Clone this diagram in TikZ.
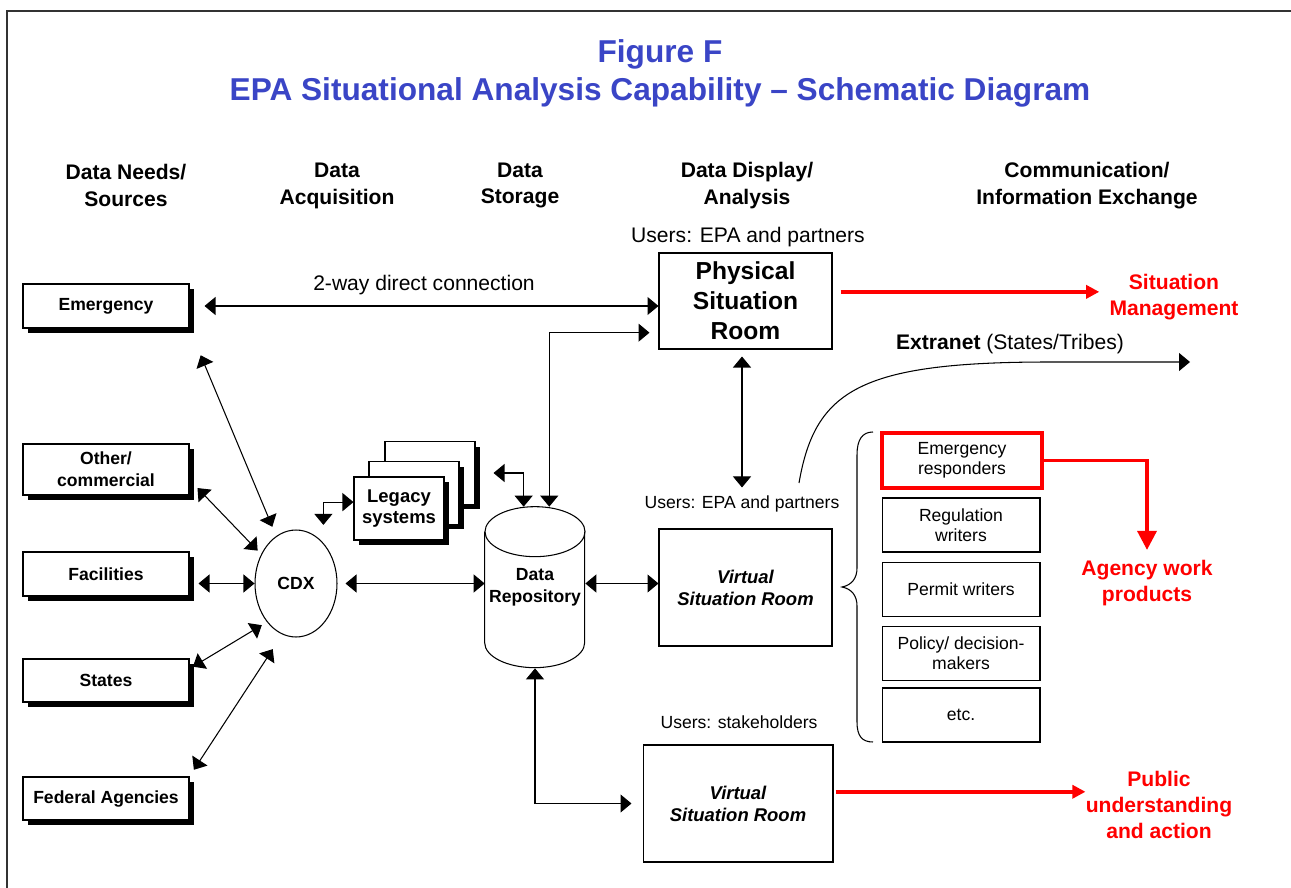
\documentclass[tikz,border=0pt]{standalone}
\usepackage{fontspec}
\setmainfont{Liberation Sans}
\usepackage{tikz}
\usetikzlibrary{arrows.meta,positioning,shapes.geometric,shadows}
\definecolor{titleblue}{HTML}{3A45C6}
\definecolor{alertred}{HTML}{FF0000}
\definecolor{framegray}{HTML}{333333}

\tikzset{
  hdr/.style={inner sep=0pt, align=center, font=\fontsize{12}{15.3}\selectfont\bfseries},
  lbl/.style={inner sep=0pt, align=center, font=\fontsize{12}{14.4}\selectfont},
  smalllbl/.style={inner sep=0pt, align=center, font=\fontsize{10}{12}\selectfont},
  redlbl/.style={inner sep=0pt, align=center, text=alertred, font=\fontsize{12}{14.7}\selectfont\bfseries},
  srcbox/.style={draw, fill=white, line width=0.6pt, minimum width=3.32cm, minimum height=0.88cm,
    inner sep=0pt, align=center, font=\fontsize{10}{12.3}\selectfont\bfseries,
    drop shadow={fill=black, opacity=1, shadow xshift=0.1cm, shadow yshift=-0.1cm}},
  legbox/.style={srcbox, minimum width=1.8cm, minimum height=1.26cm, font=\fontsize{10.5}{11.5}\selectfont\bfseries},
  roombox/.style={draw, fill=white, line width=0.6pt, inner sep=0pt, align=center},
  userbox/.style={draw, line width=0.6pt, minimum width=3.16cm, minimum height=1.08cm,
    inner sep=0pt, align=center, font=\fontsize{10}{11.5}\selectfont},
  dbl/.style={line width=0.6pt, {Triangle[length=0.22cm,width=0.36cm]}-{Triangle[length=0.22cm,width=0.36cm]}},
  redarr/.style={draw=alertred, line width=2pt, -{Triangle[length=0.26cm,width=0.26cm]}},
}

\begin{document}
\begin{tikzpicture}[x=0.02cm, y=-0.02cm]
  \useasboundingbox (0,0) rectangle (1291,888);
  \draw[framegray, line width=1.1pt] (7,888) -- (7,11) -- (1291,11);

  \node[inner sep=0pt, align=center, text=titleblue, font=\fontsize{18}{22}\selectfont\bfseries] (title) at (660,73.5)
    {Figure F\\EPA Situational Analysis Capability – Schematic Diagram};

  \node[hdr] (hdrsrc) at (126,185.5) {Data Needs/\\Sources};
  \node[hdr] (hdracq) at (337,185.5) {Data\\Acquisition};
  \node[hdr] (hdrsto) at (520,185.5) {Data\\Storage};
  \node[hdr] (hdrdisp) at (747,185.5) {Data Display/\\Analysis};
  \node[hdr] (hdrcomm) at (1087,185.5) {Communication/\\Information Exchange};

  \node[srcbox] (emerg) at (106,306) {Emergency};
  \node[srcbox, minimum height=1.02cm] (other) at (106,469.5) {Other/\\commercial};
  \node[srcbox] (fac) at (106,574) {Facilities};
  \node[srcbox, minimum height=0.86cm] (states) at (106,680.5) {States};
  \node[srcbox, minimum height=0.86cm] (fed) at (106,798.5) {Federal Agencies};

  \node[draw, ellipse, line width=0.6pt, minimum width=1.64cm, minimum height=2.14cm, inner sep=0pt,
        font=\fontsize{10}{12}\selectfont\bfseries] (cdx) at (296,583.5) {CDX};

  \node[legbox] (legb) at (430,473) {};
  \node[legbox] (legm) at (414,493) {};
  \node[legbox] (lega) at (399,508.5) {Legacy\\systems};

  \node[inner sep=0pt, minimum width=2cm, minimum height=3.22cm, align=center,
        font=\fontsize{10}{12.5}\selectfont\bfseries] (repo) at (535,587.5) {Data\\Repository};
  \draw[line width=0.6pt] (repo.north) ++(0,25) ellipse [x radius=50, y radius=25];
  \draw[line width=0.6pt] (repo.north west) ++(0,25) -- ++(0,111)
    arc [start angle=180, end angle=0, x radius=50, y radius=25] -- ++(0,-111);

  \node[lbl] (users1) at (748,237) {Users: EPA and partners};
  \node[roombox, minimum width=3.46cm, minimum height=1.92cm, font=\fontsize{14}{17}\selectfont\bfseries]
    (phys) at (745.5,301) {Physical\\Situation\\Room};
  \node[smalllbl] (users2) at (742,504) {Users: EPA and partners};
  \node[roombox, minimum width=3.46cm, minimum height=2.34cm, font=\fontsize{10.5}{12.5}\selectfont\bfseries\itshape]
    (vmid) at (745.5,587.5) {Virtual\\Situation Room};
  \node[smalllbl] (users3) at (739,722) {Users: stakeholders};
  \node[roombox, minimum width=3.8cm, minimum height=2.34cm, font=\fontsize{10.5}{12.5}\selectfont\bfseries\itshape]
    (vbot) at (738,803.5) {Virtual\\Situation Room};

  \node[redlbl] (sitmgmt) at (1174,297) {Situation\\Management};
  \node[lbl] (extlbl) at (1010,344) {\textbf{Extranet} (States/Tribes)};
  \node[redlbl] (agency) at (1147,583) {Agency work\\products};
  \node[redlbl] (public) at (1159,805) {Public\\understanding\\and action};

  \node[userbox, draw=alertred, line width=2.4pt, minimum width=3.2cm, minimum height=1.1cm] (er) at (962,460.5) {Emergency\\responders};
  \node[userbox] (reg) at (961,525) {Regulation\\writers};
  \node[userbox] (permit) at (961,589.5) {Permit writers};
  \node[userbox] (policy) at (961,653.5) {Policy/ decision-\\makers};
  \node[userbox] (etc) at (961,715) {etc.};

  \draw[line width=0.6pt] (873,432) .. controls (862,432) and (857,440) .. (857,455) -- (857,568)
    .. controls (857,578) and (852,585) .. (842,587) .. controls (852,589) and (857,596) .. (857,606)
    -- (857,722) .. controls (857,736) and (862,742) .. (873,742);

  \draw[dbl, shorten <=0.3cm] (emerg.east) -- (emerg.east -| phys.west)
    node[lbl, pos=0.5, above=0.22cm] (connlbl) {2-way direct connection};
  \draw[dbl, shorten <=0.58cm, shorten >=0.2cm] (emerg.south east) -- (cdx);
  \draw[dbl, shorten <=0.23cm, shorten >=0.1cm] (other.-7) -- (cdx.140);
  \draw[dbl, shorten <=0.18cm] (fac.east |- cdx.west) -- (cdx.west);
  \draw[dbl, shorten <=0.08cm, shorten >=0.12cm] (states.8) -- (cdx.233);
  \draw[dbl, shorten <=0.16cm, shorten >=0.35cm] (fed.north east) -- (cdx.255);
  \draw[dbl, shorten >=0.36cm] (lega.172) -| (cdx.56);
  \draw[dbl, shorten <=0.16cm] (cdx.east) -- (cdx.east -| repo.west);
  \draw[dbl, shorten <=0.36cm] (legb.east) -| (repo.98);
  \draw[dbl, shorten >=0.18cm] (repo.80) |- (phys.200);
  \draw[dbl] (repo.east |- cdx.east) -- (vmid.west |- cdx.east);
  \draw[dbl, shorten >=0.22cm] (repo.south) |- (vbot.west);
  \draw[dbl, shorten <=0.14cm, shorten >=0.16cm] (phys.south -| users2.north) -- (users2.north);

  \coordinate (extA) at (799,483);
  \coordinate (extB) at (1190,362);
  \draw[line width=0.6pt, -{Triangle[length=0.22cm,width=0.36cm]}] (extA)
    .. controls (815,390) and (860,362) .. (1050,362) -- (extB);

  \draw[redarr, shorten <=0.16cm, shorten >=0.2cm] (phys.6) -- (phys.6 -| sitmgmt.west);
  \draw[redarr, -{Triangle[length=0.38cm,width=0.38cm]}, shorten >=0.2cm] (er.east) -| (agency.north);
  \draw[redarr, shorten <=0.04cm] (vbot.7) -- (vbot.7 -| public.west);
\end{tikzpicture}
\end{document}
